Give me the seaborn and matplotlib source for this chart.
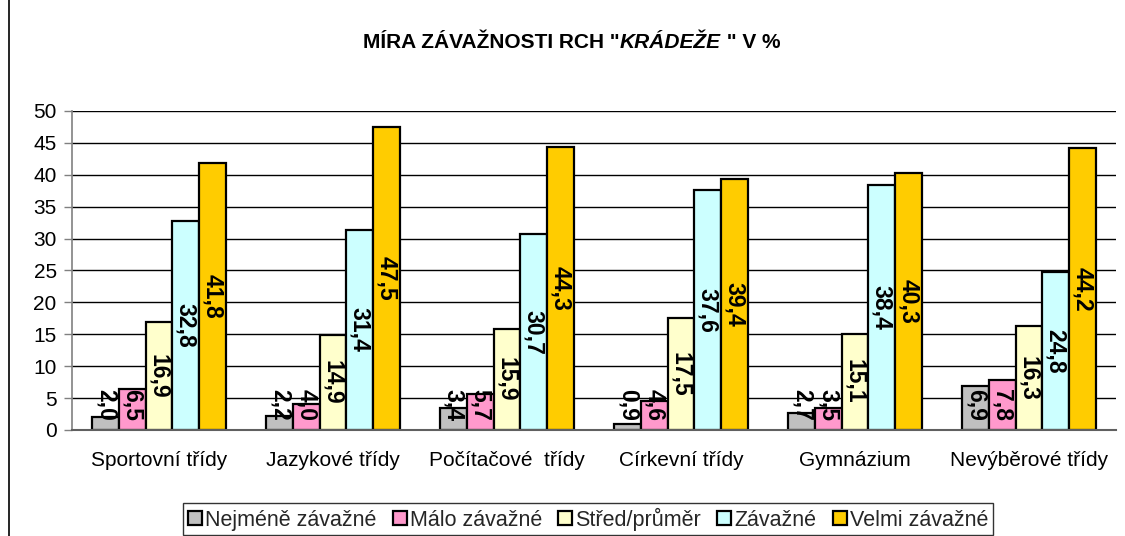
import matplotlib
matplotlib.use("Agg")
import matplotlib.pyplot as plt
from matplotlib.lines import Line2D
from matplotlib.patches import Patch
import seaborn as sns
import pandas as pd
import numpy as np

categories = ["Sportovní třídy", "Jazykové třídy", "Počítačové  třídy",
              "Církevní třídy", "Gymnázium", "Nevýběrové třídy"]
series = ["Nejméně závažné", "Málo závažné", "Střed/průměr", "Závažné", "Velmi závažné"]
nejmene = [2.0, 2.2, 3.4, 0.9, 2.7, 6.9]
malo = [6.5, 4.0, 5.7, 4.6, 3.5, 7.8]
stred = [16.9, 14.9, 15.9, 17.5, 15.1, 16.3]
zavazne = [32.8, 31.4, 30.7, 37.6, 38.4, 24.8]
velmi = [41.8, 47.5, 44.3, 39.4, 40.3, 44.2]
colors = ["#C0C0C0", "#FF99CC", "#FFFFCC", "#CCFFFF", "#FFCC00"]
yticks = [0, 5, 10, 15, 20, 25, 30, 35, 40, 45, 50]

values = [nejmene, malo, stred, zavazne, velmi]
rows = []
for s, vals in zip(series, values):
    for c, v in zip(categories, vals):
        rows.append({"kategorie": c, "míra": s, "hodnota": v})
df = pd.DataFrame(rows)

sns.set_theme(style="white")
plt.rcParams["font.family"] = ["Liberation Sans", "DejaVu Sans"]

FS = 15

fig = plt.figure(figsize=(11.25, 5.36), dpi=100)
ax = fig.add_axes([0.064, 0.1978, 0.928, 0.5952])

sns.barplot(data=df, x="kategorie", y="hodnota", hue="míra", order=categories,
            hue_order=series, palette=colors, width=0.765, saturation=1,
            edgecolor="black", linewidth=1.6, ax=ax, legend=False, errorbar=None)

ax.set_xlim(-0.5, len(categories) - 0.5)
ax.set_ylim(0, 50)
ax.set_yticks(yticks)
ax.set_yticklabels([str(t) for t in yticks], fontsize=FS, color="black")
ax.set_xlabel("")
ax.set_ylabel("")
ax.set_xticks(range(len(categories)))
ax.set_xticklabels(categories, fontsize=FS, color="black")
ax.set_xticks(np.arange(-0.5, len(categories)), minor=True)
ax.tick_params(axis="x", which="major", length=0, pad=15)
ax.tick_params(axis="x", which="minor", length=7, width=1, color="#808080", direction="out")
ax.tick_params(axis="y", which="major", length=6, width=1, color="#808080",
               direction="out", left=True, pad=5)

for y in yticks[1:]:
    ax.axhline(y, color="black", linewidth=1.0, zorder=0.5)

for name in ["top", "right"]:
    ax.spines[name].set_visible(False)
ax.spines["left"].set_color("#808080")
ax.spines["left"].set_linewidth(1.2)
ax.spines["bottom"].set_color("#606060")
ax.spines["bottom"].set_linewidth(1.5)

# value labels, rotated, centred in each bar (kept clear of the axis for short bars)
for cont in ax.containers:
    for bar in cont:
        v = bar.get_height()
        xc = bar.get_x() + bar.get_width() / 2
        yc = max(v / 2, 3.9)
        ax.text(xc, yc, f"{v:.1f}".replace(".", ","), rotation=-90,
                ha="center", va="center", fontsize=16.5, fontweight="bold",
                color="black", zorder=5)

# title with an italic word in the middle
renderer = fig.canvas.get_renderer()
parts = [("MÍRA ZÁVAŽNOSTI RCH \"", "normal"), ("KRÁDEŽE", "italic"), (" \" V %", "normal")]
texts = []
for s, st in parts:
    t = fig.text(0, 0.92, s, fontsize=FS, fontweight="bold", style=st,
                 ha="left", va="center", color="black")
    texts.append(t)
widths = [t.get_window_extent(renderer).width for t in texts]
total = sum(widths)
x0 = 572 - total / 2
for t, w in zip(texts, widths):
    t.set_x(x0 / 1125)
    x0 += w

handles = [Patch(facecolor=c, edgecolor="black", linewidth=1.6) for c in colors]
leg = fig.legend(handles, series, loc="center", bbox_to_anchor=(588 / 1125, 1 - 519 / 536),
                 ncol=5, fontsize=15.5, frameon=True, fancybox=False,
                 handlelength=0.65, handleheight=0.65, handletextpad=0.15,
                 columnspacing=0.75, borderpad=0.22, borderaxespad=0)
leg.get_frame().set_edgecolor("black")
leg.get_frame().set_linewidth(1.0)

fig.add_artist(Line2D([9 / 1125, 9 / 1125], [0, 1], color="black", linewidth=1.2,
                      transform=fig.transFigure))

fig.savefig("out.png", dpi=100, facecolor="white")
